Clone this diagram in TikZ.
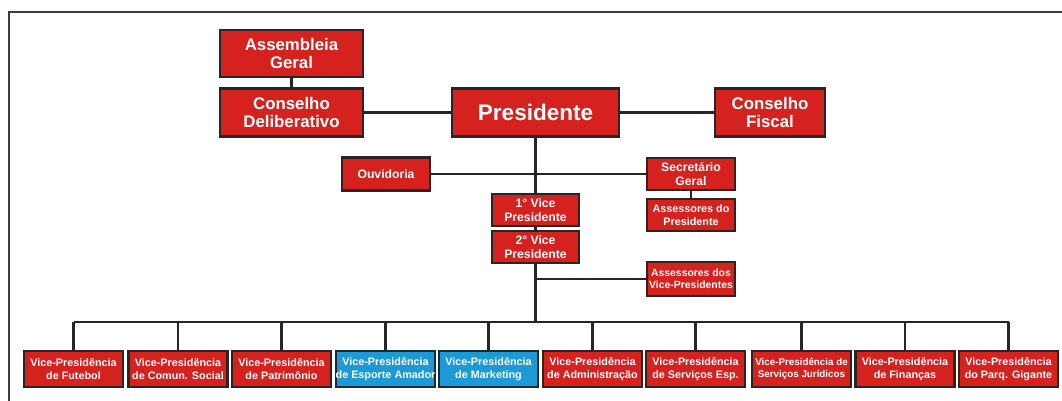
\documentclass[tikz,border=0pt]{standalone}
\usepackage{fontspec}
\setmainfont{Liberation Sans}
\definecolor{boxred}{HTML}{D6221F}
\definecolor{boxblue}{HTML}{1C9AD8}
\definecolor{boxline}{HTML}{262626}
\definecolor{framecol}{HTML}{3C3C3C}
\tikzset{
  orgbox/.style={draw=boxline, line width=2.2pt, fill=boxred, text=white, align=center, inner sep=0pt, font=\bfseries},
  bluebox/.style={orgbox, fill=boxblue},
  big/.style={font=\bfseries\fontsize{16.8}{18.8}\selectfont},
  mid/.style={font=\bfseries\fontsize{12.2}{14}\selectfont},
  small/.style={font=\bfseries\fontsize{10.8}{12.5}\selectfont},
  vpbox/.style={minimum width=99pt, minimum height=36pt, font=\bfseries\fontsize{10.8}{12.5}\selectfont},
  conn/.style={draw=boxline, line width=2.2pt},
  framestyle/.style={draw=framecol, line width=2.4pt}
}
\begin{document}
\begin{tikzpicture}[x=1pt,y=-1pt]
\useasboundingbox (0,0) rectangle (1062,400);
\clip (0,0) rectangle (1062,400);
\draw[framestyle] (9,420) -- (9,12) -- (1080,12);

\node[orgbox,big,minimum width=143pt,minimum height=47pt] (ag) at (291.5,53.5) {Assembleia\\Geral};
\node[orgbox,big,minimum width=143pt,minimum height=48pt] (cd) at (291.5,112.5) {Conselho\\Deliberativo};
\node[orgbox,font=\bfseries\fontsize{22.5}{24}\selectfont,minimum width=167pt,minimum height=48pt] (pres) at (535.5,112.5) {Presidente};
\node[orgbox,big,minimum width=110pt,minimum height=48pt] (cf) at (770,112.5) {Conselho\\Fiscal};
\node[orgbox,mid,minimum width=88pt,minimum height=33pt] (ouv) at (386,174) {Ouvidoria};
\node[orgbox,mid,minimum width=88pt,minimum height=32pt] (sg) at (691,174) {Secretário\\Geral};
\node[orgbox,small,minimum width=88pt,minimum height=32pt] (ap) at (691,215) {Assessores do\\Presidente};
\node[orgbox,mid,minimum width=87pt,minimum height=32pt] (v1) at (535.5,210) {1° Vice\\Presidente};
\node[orgbox,mid,minimum width=87pt,minimum height=32pt] (v2) at (535.5,247) {2° Vice\\Presidente};
\node[orgbox,font=\bfseries\fontsize{10.4}{12}\selectfont,minimum width=88pt,minimum height=34pt] (avp) at (691,279) {Assessores dos\\Vice-Presidentes};

\node[orgbox,vpbox] (b1) at (73.5,369) {Vice-Presidência\\de Futebol};
\node[orgbox,vpbox] (b2) at (178,369) {Vice-Presidência\\de Comun. Social};
\node[orgbox,vpbox] (b3) at (281.5,369) {Vice-Presidência\\de Patrimônio};
\node[bluebox,vpbox] (b4) at (385.5,369) {Vice-Presidência\\de Esporte Amador};
\node[bluebox,vpbox] (b5) at (488.5,369) {Vice-Presidência\\de Marketing};
\node[orgbox,vpbox] (b6) at (592.5,369) {Vice-Presidência\\de Administração};
\node[orgbox,vpbox] (b7) at (695.5,369) {Vice-Presidência\\de Serviços Esp.};
\node[orgbox,vpbox,font=\bfseries\fontsize{9.8}{12}\selectfont] (b8) at (801.5,369) {Vice-Presidência de\\Serviços Jurídicos};
\node[orgbox,vpbox] (b9) at (905,369) {Vice-Presidência\\de Finanças};
\node[orgbox,vpbox] (b10) at (1008.5,369) {Vice-Presidência\\do Parq. Gigante};

\coordinate (bus) at (535.5,322);

\draw[conn] (ag.south) -- (cd.north);
\draw[conn] (cd.east) -- (pres.west);
\draw[conn] (pres.east) -- (cf.west);
\draw[conn] (pres.south) -- (v1.north);
\draw[conn] (ouv.east) -- (sg.west);
\draw[conn] (sg.south) -- (ap.north);
\draw[conn] (v1.south) -- (v2.north);
\draw[conn] (v2.south) -- (bus);
\draw[conn] (avp.west) -- (avp.west -| v2.south);
\draw[conn] (b1.north |- bus) -- (b10.north |- bus);
\foreach \b in {b1,b2,b3,b4,b5,b6,b7,b8,b9,b10}{
  \draw[conn] (\b.north) -- (\b.north |- bus);
}
\end{tikzpicture}
\end{document}
